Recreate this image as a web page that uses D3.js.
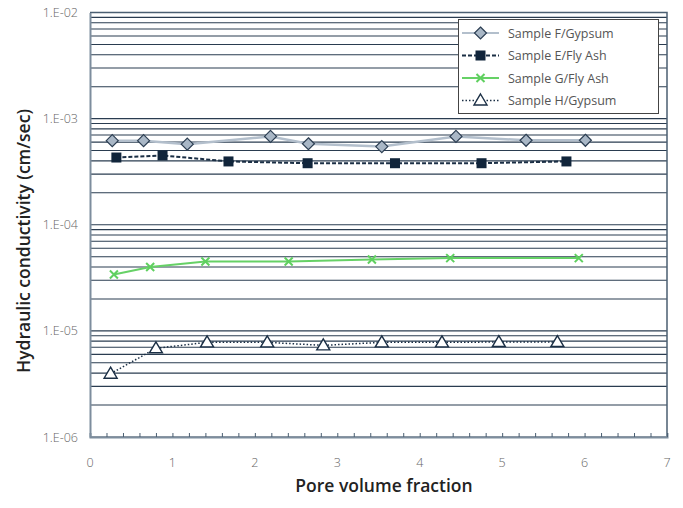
<!DOCTYPE html>
<html>
<head>
<meta charset="utf-8">
<script src="https://cdn.jsdelivr.net/npm/d3@7"></script>
<style>
  html, body { margin: 0; padding: 0; background: #fff; }
  svg { display: block; font-family: 'Open Sans', 'Noto Sans', sans-serif; }
</style>
</head>
<body>
<svg id="chart" width="683" height="508"></svg>
<script>
// values
const xTicks = [0, 1, 2, 3, 4, 5, 6, 7]
const yTicks = [1e-6, 1e-5, 1e-4, 1e-3, 1e-2]
const yTickLabels = ['1.E-06', '1.E-05', '1.E-04', '1.E-03', '1.E-02']

const fX = [0.27, 0.65, 1.18, 2.19, 2.65, 3.54, 4.44, 5.29, 6.01]
const fY = [6.2e-4, 6.2e-4, 5.75e-4, 6.8e-4, 5.8e-4, 5.45e-4, 6.8e-4, 6.25e-4, 6.25e-4]

const eX = [0.32, 0.88, 1.68, 2.64, 3.70, 4.75, 5.78]
const eY = [4.3e-4, 4.5e-4, 3.95e-4, 3.8e-4, 3.8e-4, 3.8e-4, 3.95e-4]

const gX = [0.29, 0.73, 1.40, 2.41, 3.42, 4.37, 5.93]
const gY = [3.4e-5, 4.0e-5, 4.5e-5, 4.5e-5, 4.7e-5, 4.85e-5, 4.85e-5]

const hX = [0.25, 0.80, 1.42, 2.15, 2.83, 3.54, 4.27, 4.96, 5.67]
const hY = [3.95e-6, 6.85e-6, 7.8e-6, 7.8e-6, 7.3e-6, 7.8e-6, 7.8e-6, 7.85e-6, 7.85e-6]

const seriesNames = ['Sample F/Gypsum', 'Sample E/Fly Ash', 'Sample G/Fly Ash', 'Sample H/Gypsum']

const svg = d3.select('#chart')

const plotL = 90, plotR = 667, plotT = 12.5, plotB = 437
const x = d3.scaleLinear().domain([0, 7]).range([plotL, plotR])
const y = d3.scaleLog().domain([1e-6, 1e-2]).range([plotB, plotT])

// horizontal grid, one line per log step
const gridVals = []
for (let e = -6; e < -2; e++) {
    for (let m = 1; m < 10; m++) gridVals.push(m * Math.pow(10, e))
}
gridVals.push(1e-2)

svg.append('g').attr('id', 'grid')
    .selectAll('line').data(gridVals).enter()
    .append('line')
    .attr('x1', plotL).attr('x2', plotR)
    .attr('y1', d => y(d)).attr('y2', d => y(d))
    .attr('stroke', '#2a3c50')
    .attr('stroke-width', 1.1)

// frame: top and right
svg.append('path')
    .attr('d', `M${plotL},${plotT}H${plotR}V${plotB}`)
    .attr('fill', 'none')
    .attr('stroke', '#4b5f72')
    .attr('stroke-width', 1.5)

// axes
const xAxis = d3.axisBottom(x).tickValues(d3.range(0, 7.01, 0.2)).tickSize(-4).tickFormat('')
const xg = svg.append('g').attr('transform', `translate(0,${plotB})`).call(xAxis)
xg.selectAll('.tick line').attr('stroke', '#4b5f72')
xg.select('.domain').attr('stroke', '#7d8d9d').attr('stroke-width', 2)

svg.append('g').selectAll('text').data(xTicks).enter()
    .append('text')
    .attr('x', d => x(d)).attr('y', 467)
    .attr('text-anchor', 'middle')
    .attr('fill', '#666')
    .attr('font-size', 12.5).attr('font-weight', 300)
    .text(d => d)

const yAxis = d3.axisLeft(y).tickValues(yTicks).tickSize(0).tickFormat((d, i) => yTickLabels[i]).tickPadding(12)
const yg = svg.append('g').attr('transform', `translate(${plotL},0)`).call(yAxis)
yg.select('.domain').attr('stroke', '#7d8d9d').attr('stroke-width', 2)
yg.selectAll('.tick text').attr('fill', '#666').attr('font-size', 12.5).attr('font-weight', 300)
    .attr('font-family', "'Open Sans', sans-serif")

// titles
svg.append('text')
    .attr('x', 384).attr('y', 492)
    .attr('text-anchor', 'middle')
    .attr('font-size', 17.5).attr('font-weight', 600).attr('fill', '#222')
    .text('Pore volume fraction')

svg.append('text')
    .attr('transform', 'translate(30,241) rotate(-90)')
    .attr('text-anchor', 'middle')
    .attr('font-size', 17.5).attr('font-weight', 600).attr('fill', '#222')
    .text('Hydraulic conductivity (cm/sec)')

// series
const line = d3.line().x(d => x(d[0])).y(d => y(d[1]))
const zip = (a, b) => a.map((v, i) => [v, b[i]])

const styles = [
    { data: zip(fX, fY), stroke: '#b3bfcc', width: 2.5, dash: null, marker: 'diamond' },
    { data: zip(eX, eY), stroke: '#1b2f45', width: 2, dash: '4,2', marker: 'square' },
    { data: zip(gX, gY), stroke: '#66d166', width: 2, dash: null, marker: 'x' },
    { data: zip(hX, hY), stroke: '#1b2f45', width: 1.5, dash: '1.5,2', marker: 'triangle' }
]

function drawMarker (g, type, cx, cy) {
    if (type === 'diamond') {
        g.append('path')
            .attr('d', `M${cx},${cy - 6}L${cx + 6},${cy}L${cx},${cy + 6}L${cx - 6},${cy}Z`)
            .attr('fill', '#a9b7c6').attr('stroke', '#2c3e52').attr('stroke-width', 1.2)
    } else if (type === 'square') {
        g.append('rect')
            .attr('x', cx - 5).attr('y', cy - 5).attr('width', 10).attr('height', 10)
            .attr('fill', '#11253b')
    } else if (type === 'x') {
        g.append('path')
            .attr('d', `M${cx - 4},${cy - 4}L${cx + 4},${cy + 4}M${cx - 4},${cy + 4}L${cx + 4},${cy - 4}`)
            .attr('stroke', '#5fd05f').attr('stroke-width', 2)
    } else {
        g.append('path')
            .attr('d', `M${cx},${cy - 6.5}L${cx + 6.5},${cy + 4.5}L${cx - 6.5},${cy + 4.5}Z`)
            .attr('fill', '#fff').attr('stroke', '#1b2f45').attr('stroke-width', 1.4)
    }
}

const seriesG = svg.append('g').attr('id', 'series')
styles.forEach(s => {
    seriesG.append('path')
        .datum(s.data)
        .attr('fill', 'none')
        .attr('stroke', s.stroke)
        .attr('stroke-width', s.width)
        .attr('stroke-dasharray', s.dash)
        .attr('d', line)
    const mg = seriesG.append('g')
    s.data.forEach(d => drawMarker(mg, s.marker, x(d[0]), y(d[1])))
})

// legend
const lg = svg.append('g').attr('id', 'legend')
lg.append('rect')
    .attr('x', 458.5).attr('y', 19.5).attr('width', 200).attr('height', 94)
    .attr('fill', '#fff').attr('stroke', '#444').attr('stroke-width', 1)

seriesNames.forEach((name, i) => {
    const s = styles[i]
    const ly = 33 + i * 22.5
    lg.append('line')
        .attr('x1', 462).attr('x2', 499).attr('y1', ly).attr('y2', ly)
        .attr('stroke', s.stroke).attr('stroke-width', s.width === 2.5 ? 2 : s.width)
        .attr('stroke-dasharray', s.dash)
    drawMarker(lg, s.marker, 480.5, ly)
    lg.append('text')
        .attr('x', 508).attr('y', ly + 4.5)
        .attr('font-size', 12.5).attr('fill', '#555')
        .text(name)
})
</script>
</body>
</html>
